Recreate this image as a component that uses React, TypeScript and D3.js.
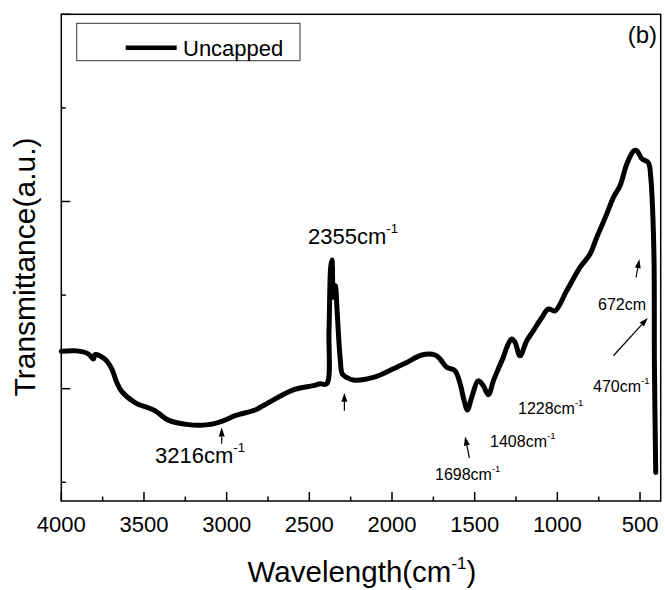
import React from "react";
import * as d3 from "d3";

const wavenumbers = [4000, 3907, 3837, 3806, 3796, 3736, 3695, 3665, 3635, 3554, 3433, 3353, 3232, 3111, 3030, 2949, 2919, 2828, 2778, 2597, 2476, 2435, 2395, 2381, 2371, 2363, 2355, 2343, 2331, 2314, 2300, 2274, 2234, 2113, 1992, 1911, 1820, 1740, 1709, 1669, 1619, 1588, 1564, 1544, 1518, 1478, 1448, 1417, 1387, 1357, 1327, 1306, 1276, 1256, 1226, 1185, 1145, 1094, 1054, 1014, 943, 863, 802, 762, 701, 661, 621, 580, 540, 520, 489, 450, 435, 423, 415, 413, 405];
const transmittance = [0.600, 0.601, 0.593, 0.579, 0.591, 0.579, 0.553, 0.517, 0.493, 0.463, 0.441, 0.416, 0.404, 0.404, 0.413, 0.428, 0.432, 0.443, 0.455, 0.497, 0.508, 0.513, 0.513, 0.655, 0.824, 0.844, 0.744, 0.775, 0.700, 0.584, 0.539, 0.530, 0.523, 0.530, 0.553, 0.570, 0.590, 0.590, 0.579, 0.557, 0.548, 0.513, 0.468, 0.443, 0.477, 0.521, 0.508, 0.484, 0.521, 0.553, 0.584, 0.610, 0.633, 0.624, 0.588, 0.628, 0.655, 0.690, 0.713, 0.708, 0.762, 0.824, 0.860, 0.904, 0.967, 1.011, 1.042, 1.100, 1.134, 1.136, 1.114, 1.104, 1.064, 0.967, 0.833, 0.567, 0.276];

const xMajorTicks = [4000, 3500, 3000, 2500, 2000, 1500, 1000, 500];
const xMinorTicks = [3750, 3250, 2750, 2250, 1750, 1250, 750];
const yMajorTicks = [0.5, 1.0, 1.5];
const yMinorTicks = [0.25, 0.75, 1.25];

const seriesName = "Uncapped";
const panelLabel = "(b)";

// annotation labels
const labelTexts = ["2355cm", "3216cm", "1698cm", "1408cm", "1228cm", "470cm", "672cm"];
const labelSups = ["-1", "-1", "-1", "-1", "-1", "-1", ""];
const labelW = [2508, 3433, 1740, 1407, 1238, 784, 754];
const labelV = [0.887, 0.302, 0.257, 0.345, 0.433, 0.492, 0.711];
const labelSize = [22, 22, 16, 16, 16, 16, 16];

// arrows: from (w1,v1) to (w2,v2)
const arrowW1 = [3030, 2288, 1532, 524, 661];
const arrowV1 = [0.353, 0.441, 0.315, 0.797, 0.588];
const arrowW2 = [3030, 2288, 1558, 504, 453];
const arrowV2 = [0.396, 0.489, 0.372, 0.846, 0.689];

const W = 665, H = 590;
const left = 61.3, right = 660.7, top = 14.3, bottom = 501;
const FONT = "'Liberation Sans', Arial, sans-serif";

export default function App() {
  const x = d3.scaleLinear().domain([4000, 375]).range([left, right]);
  const y = d3.scaleLinear().domain([0.2, 1.5]).range([bottom, top]);
  const pts = wavenumbers.map((w, i) => [w, transmittance[i]] as [number, number]);
  const line = d3.line<[number, number]>().x(d => x(d[0])).y(d => y(d[1])).curve(d3.curveCatmullRom.alpha(0.5));
  const path = line(pts) || "";

  const arrows = arrowW1.map((w, i) => {
    const x1 = x(w), y1 = y(arrowV1[i]), x2 = x(arrowW2[i]), y2 = y(arrowV2[i]);
    const ang = Math.atan2(y2 - y1, x2 - x1);
    const L = 9, hw = 3;
    const bx = x2 - L * Math.cos(ang), by = y2 - L * Math.sin(ang);
    const px = -Math.sin(ang) * hw, py = Math.cos(ang) * hw;
    return { x1, y1, bx, by, x2, y2, head: `M${x2},${y2}L${bx + px},${by + py}L${bx - px},${by - py}Z` };
  });

  return (
    <svg width={W} height={H} style={{ position: "absolute", left: 0, top: 0, background: "#fff" }} fontFamily={FONT}>
      <rect x={0} y={0} width={W} height={H} fill="#fff" />
      <rect x={left} y={top} width={right - left} height={bottom - top} fill="none" stroke="#000" strokeWidth={1.5} />
      {xMajorTicks.map(t => (
        <g key={"xm" + t}>
          <line x1={x(t)} x2={x(t)} y1={bottom} y2={bottom - 9} stroke="#000" strokeWidth={1.5} />
          <text x={x(t)} y={532} fontSize={22} textAnchor="middle">{t}</text>
        </g>
      ))}
      {xMinorTicks.map(t => (
        <line key={"xn" + t} x1={x(t)} x2={x(t)} y1={bottom} y2={bottom - 4.5} stroke="#000" strokeWidth={1.5} />
      ))}
      {yMajorTicks.map(t => (
        <line key={"ym" + t} x1={left} x2={left + 9} y1={y(t)} y2={y(t)} stroke="#000" strokeWidth={1.5} />
      ))}
      {yMinorTicks.map(t => (
        <line key={"yn" + t} x1={left} x2={left + 4.5} y1={y(t)} y2={y(t)} stroke="#000" strokeWidth={1.5} />
      ))}
      <text x={362} y={582} fontSize={29.5} textAnchor="middle">
        Wavelength(cm<tspan fontSize={17} dy={-13}>-1</tspan><tspan dy={13}>)</tspan>
      </text>
      <text transform={`translate(35,267) rotate(-90)`} fontSize={30} textAnchor="middle">
        Transmittance(a.u.)
      </text>
      <path d={path} fill="none" stroke="#000" strokeWidth={5} strokeLinejoin="round" strokeLinecap="round" />
      {labelTexts.map((t, i) => (
        <text key={"lab" + i} x={x(labelW[i])} y={y(labelV[i])} fontSize={labelSize[i]}>
          {t}
          {labelSups[i] && <tspan fontSize={labelSize[i] * 0.6} dy={-labelSize[i] * 0.5}>{labelSups[i]}</tspan>}
        </text>
      ))}
      {arrows.map((a, i) => (
        <g key={"ar" + i}>
          <line x1={a.x1} y1={a.y1} x2={a.bx} y2={a.by} stroke="#000" strokeWidth={1.2} />
          <path d={a.head} fill="#000" />
        </g>
      ))}
      <rect x={76.7} y={23.3} width={223.3} height={37.4} fill="#fff" stroke="#333" strokeWidth={1} />
      <line x1={125.7} x2={176.7} y1={47.7} y2={47.7} stroke="#000" strokeWidth={4.5} />
      <text x={183} y={55.5} fontSize={22}>{seriesName}</text>
      <text x={657} y={43} fontSize={24} textAnchor="end">{panelLabel}</text>
    </svg>
  );
}
